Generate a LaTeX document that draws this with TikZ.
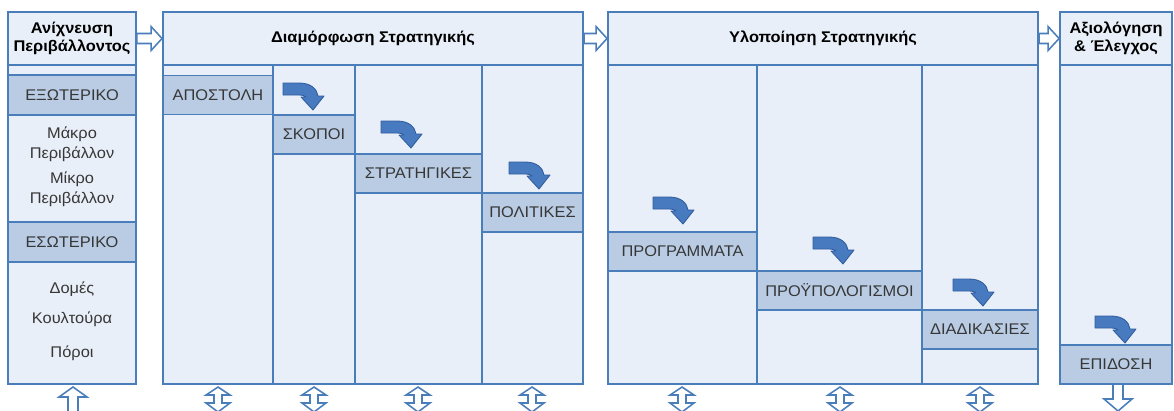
\documentclass[tikz,border=0pt]{standalone}
\usepackage{fontspec}
\setmainfont{Liberation Sans}[FakeStretch=1.06]
\usetikzlibrary{calc}
\definecolor{frameblue}{RGB}{74,126,187}
\definecolor{paleblue}{RGB}{233,239,248}
\definecolor{bandblue}{RGB}{185,204,228}
\definecolor{turnblue}{RGB}{72,122,192}
\definecolor{turnedge}{RGB}{48,92,158}
\definecolor{textgray}{RGB}{55,55,55}
\tikzset{%
  % Specifications for style of boxes, bands and arrows:
      header/.style = {rectangle, draw=frameblue, fill=paleblue, line width=1.3pt,
                       minimum height=1.325cm, align=center, text=black,
                       font=\bfseries\fontsize{11}{12.5}\selectfont},
        band/.style = {rectangle, draw=frameblue, fill=bandblue, line width=0.9pt,
                       minimum height=0.975cm, inner sep=0pt, text=textgray,
                       font=\fontsize{11}{12.5}\selectfont},
        item/.style = {align=center, text=textgray,
                       font=\fontsize{11}{14}\selectfont},
       frame/.style = {draw=frameblue, line width=1.3pt},
        turn/.style = {fill=turnblue, draw=turnedge, line width=0.6pt, line join=round},
      hollow/.style = {draw=frameblue, fill=white, line width=1.1pt, line join=miter},
  pics/turnarrow/.style = {code={
      \draw[turn] (0,0) -- (16,0) .. controls (28,0) and (34,6) .. (35,13)
        -- (41,13) -- (30,27) -- (18,14) -- (23,14)
        .. controls (22,13) and (20,12) .. (16,12) -- (0,12) -- cycle;}},
  pics/updown/.style = {code={
      \draw[hollow] (0,0) -- (12,8) -- (4,8) -- (4,16) -- (12,16) -- (0,25)
        -- (-12,16) -- (-4,16) -- (-4,8) -- (-12,8) -- cycle;}},
  pics/uparrow/.style = {code={
      \draw[hollow] (0,0) -- (14,10) -- (5,10) -- (5,30) -- (-5,30)
        -- (-5,10) -- (-14,10) -- cycle;}},
  pics/downarrow/.style = {code={
      \draw[hollow] (5,0) -- (5,15) -- (14,15) -- (0,27) -- (-14,15)
        -- (-5,15) -- (-5,0) -- cycle;}},
}
% hollow block arrow from the east side of one header to the west side of the next
\newcommand\passarrow[2]{%
  \draw[hollow] ($(#1.east)+(0,-5)$) -- ($(#2.west)+(-11,-5)$)
    -- ($(#2.west)+(-11,-12)$) -- (#2.west) -- ($(#2.west)+(-11,12)$)
    -- ($(#2.west)+(-11,5)$) -- ($(#1.east)+(0,5)$) -- cycle;}

\begin{document}
\begin{tikzpicture}[x=0.025cm, y=-0.025cm]
  \clip (0,0) rectangle (1174,410);
  \fill[white] (0,0) rectangle (1174,410);

  % Bodies of the four stages
  \fill[paleblue] (8,65) rectangle (136,384);
  \fill[paleblue] (163,65) rectangle (583,384);
  \fill[paleblue] (608,65) rectangle (1038,384);
  \fill[paleblue] (1060,65) rectangle (1172,384);

  % Headers
  \node (hdScan) [header, minimum width=3.2cm]   at (72,38.5)   {Ανίχνευση\\Περιβάλλοντος};
  \node (hdForm) [header, minimum width=10.5cm]  at (373,38.5)  {Διαμόρφωση Στρατηγικής};
  \node (hdImpl) [header, minimum width=10.75cm] at (823,38.5)  {Υλοποίηση Στρατηγικής};
  \node (hdEval) [header, minimum width=2.8cm]   at (1116,38.5) {Αξιολόγηση\\\& Έλεγχος};

  % Environment column
  \node (external) [band, minimum width=3.2cm, minimum height=1cm] at (72,95)  {ΕΞΩΤΕΡΙΚΟ};
  \node (internal) [band, minimum width=3.2cm, minimum height=1cm] at (72,242) {ΕΣΩΤΕΡΙΚΟ};
  \node (macroEnv) [item] at (72,144) {Μάκρο\\Περιβάλλον};
  \node (microEnv) [item] at (72,189) {Μίκρο\\Περιβάλλον};
  \node (structs)  [item] at (72,289) {Δομές};
  \node (culture)  [item] at (72,319) {Κουλτούρα};
  \node (resources)[item] at (72,353) {Πόροι};

  % Formulation bands
  \node (mission)  [band, minimum width=2.75cm]  at (218,95)    {ΑΠΟΣΤΟΛΗ};
  \node (goals)    [band, minimum width=2.05cm]  at (314,134.5) {ΣΚΟΠΟΙ};
  \node (strats)   [band, minimum width=3.175cm] at (418.5,173.5) {ΣΤΡΑΤΗΓΙΚΕΣ};
  \node (policies) [band, minimum width=2.525cm] at (532.5,212.5) {ΠΟΛΙΤΙΚΕΣ};

  % Implementation bands
  \node (programs) [band, minimum width=3.725cm] at (682.5,251.5) {ΠΡΟΓΡΑΜΜΑΤΑ};
  \node (budgets)  [band, minimum width=4.125cm] at (839.5,290.5) {ΠΡΟΫΠΟΛΟΓΙΣΜΟΙ};
  \node (procs)    [band, minimum width=2.9cm]   at (980,329.5)   {ΔΙΑΔΙΚΑΣΙΕΣ};

  % Evaluation band
  \node (perform)  [band, minimum width=2.8cm]   at (1116,364.5)  {ΕΠΙΔΟΣΗ};

  % Outlines and column dividers
  \draw[frame] (8,12) rectangle (136,384);
  \draw[frame] (163,12) rectangle (583,384);
  \draw[frame] (608,12) rectangle (1038,384);
  \draw[frame] (1060,12) rectangle (1172,384);
  \foreach \x in {273,355,482,757,922}
    \draw[frame] (\x,65) -- (\x,384);

  % Turning arrows
  \pic at (283,83)   {turnarrow};
  \pic at (381,121)  {turnarrow};
  \pic at (509,162)  {turnarrow};
  \pic at (653,197)  {turnarrow};
  \pic at (813,237)  {turnarrow};
  \pic at (953,279)  {turnarrow};
  \pic at (1095,316) {turnarrow};

  % Arrows between the stages
  \passarrow{hdScan}{hdForm}
  \passarrow{hdForm}{hdImpl}
  \passarrow{hdImpl}{hdEval}

  % Arrows under the columns
  \pic at (73,387) {uparrow};
  \foreach \x in {218,314,418,532,682,840,980}
    \pic at (\x,387) {updown};
  \pic at (1118,384) {downarrow};
\end{tikzpicture}
\end{document}
